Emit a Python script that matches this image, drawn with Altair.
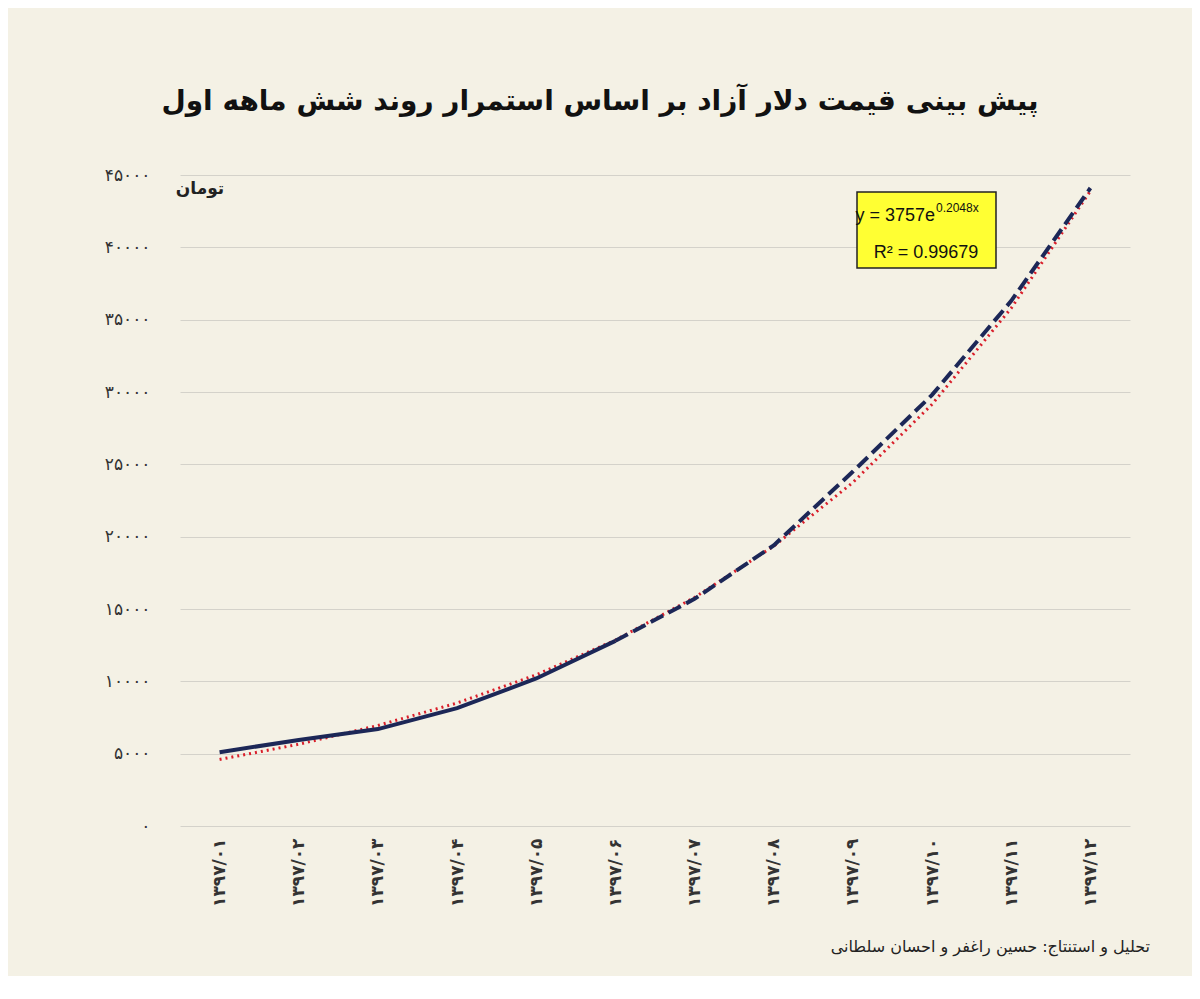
import altair as alt
import pandas as pd

months = ["۱۳۹۷/۰۱","۱۳۹۷/۰۲","۱۳۹۷/۰۳","۱۳۹۷/۰۴","۱۳۹۷/۰۵","۱۳۹۷/۰۶",
          "۱۳۹۷/۰۷","۱۳۹۷/۰۸","۱۳۹۷/۰۹","۱۳۹۷/۱۰","۱۳۹۷/۱۱","۱۳۹۷/۱۲"]
actual = [5100, 5950, 6700, 8150, 10200, 12800]
forecast = [12800, 15700, 19400, 24500, 29800, 36300, 44100]
trend = [4600, 5650, 6950, 8500, 10450, 12850, 15800, 19350, 23750, 29150, 35800, 43900]
yticks = [0, 5000, 10000, 15000, 20000, 25000, 30000, 35000, 40000, 45000]

def fa(n):
    return str(n).translate(str.maketrans("0123456789", "۰۱۲۳۴۵۶۷۸۹"))

label_expr = "".join(f"datum.value=={v}?'{fa(v)}':" for v in yticks) + "''"

FONT = "DejaVu Sans"
df_act = pd.DataFrame({"m": months[:6], "v": actual})
df_fc = pd.DataFrame({"m": months[5:], "v": forecast})
df_tr = pd.DataFrame({"m": months, "v": trend})

x = alt.X("m:O", sort=months, scale=alt.Scale(domain=months, type="point", padding=0.5),
          axis=alt.Axis(title=None, labelAngle=270, labelFontSize=17, labelFontWeight="bold",
                        labelColor="#333", domain=False, ticks=False, labelPadding=12,
                        labelFont=FONT, grid=False))
y = alt.Y("v:Q", scale=alt.Scale(domain=[0, 45000], nice=False),
          axis=alt.Axis(title=None, values=yticks, labelExpr=label_expr, labelFontSize=17,
                        labelColor="#333", labelFont=FONT, domain=False, ticks=False,
                        labelPadding=30, gridColor="#d4d2ca", gridWidth=1))

base_col = "#1c2757"
l_act = alt.Chart(df_act).mark_line(color=base_col, strokeWidth=4).encode(x=x, y=y)
l_fc = alt.Chart(df_fc).mark_line(color=base_col, strokeWidth=4, strokeDash=[14, 6]).encode(x=x, y=y)
l_tr = alt.Chart(df_tr).mark_line(color="#d91e2a", strokeWidth=3, strokeDash=[2, 4]).encode(x=x, y=y)

one = pd.DataFrame({"a": [0]})
box = alt.Chart(one).mark_rect(fill="#ffff33", stroke="#222", strokeWidth=1.5).encode(
    x=alt.value(677), x2=alt.value(816), y=alt.value(17), y2=alt.value(93))
eq1 = alt.Chart(pd.DataFrame({"t": ["y = 3757e"]})).mark_text(
    fontSize=18, font="Liberation Sans", color="#111", align="right").encode(
    text="t:N", x=alt.value(755), y=alt.value(41))
eq1s = alt.Chart(pd.DataFrame({"t": ["0.2048x"]})).mark_text(
    fontSize=12, font="Liberation Sans", color="#111", align="left").encode(
    text="t:N", x=alt.value(756), y=alt.value(33))
eq2 = alt.Chart(pd.DataFrame({"t": ["R² = 0.99679"]})).mark_text(
    fontSize=18, font="Liberation Sans", color="#111", align="center").encode(
    text="t:N", x=alt.value(746), y=alt.value(78))
unit = alt.Chart(pd.DataFrame({"t": ["تومان"]})).mark_text(
    fontSize=17, fontWeight="bold", font=FONT, color="#222", align="center").encode(
    text="t:N", x=alt.value(20), y=alt.value(14))
footer = alt.Chart(pd.DataFrame({"t": ["تحلیل و استنتاج: حسین راغفر و احسان سلطانی"]})).mark_text(
    fontSize=16, font=FONT, color="#222", align="right").encode(
    text="t:N", x=alt.value(970), y=alt.value(772))

chart = alt.layer(l_tr, l_act, l_fc, box, eq1, eq1s, eq2, unit, footer).properties(
    width=950, height=651,
    title=alt.TitleParams("پیش بینی قیمت دلار آزاد بر اساس استمرار روند شش ماهه اول",
                          fontSize=28, fontWeight="bold", font=FONT, color="#111", offset=50,
                          anchor="middle", dx=-55),
    autosize=alt.AutoSizeParams(type="none"),
    padding={"left": 172, "top": 167, "right": 62, "bottom": 150},
).configure(background="#f4f1e5").configure_view(stroke=None)

chart.save("out.html", embed_options={"renderer": "svg", "actions": False})
